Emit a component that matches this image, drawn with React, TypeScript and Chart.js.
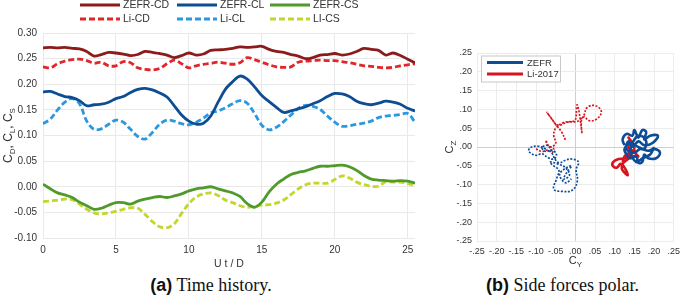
import React, { useEffect, useRef } from "react";
import { Chart, registerables } from "chart.js";

Chart.register(...registerables);

// ---------- Time history data ----------
const timeUtD = [
  0, 0.5, 1, 1.5, 2, 2.5, 3, 3.5, 4, 4.5, 5, 5.5, 6, 6.5, 7, 7.5, 8, 8.5, 9, 9.5,
  10, 10.5, 11, 11.5, 12, 12.5, 13, 13.5, 14, 14.5, 15, 15.5, 16, 16.5, 17, 17.5,
  18, 18.5, 19, 19.5, 20, 20.5, 21, 21.5, 22, 22.5, 23, 23.5, 24, 24.5, 25, 25.5,
];

const zefrCD = [
  0.271, 0.272, 0.271, 0.272, 0.27, 0.269, 0.264, 0.255, 0.258, 0.262, 0.261, 0.259,
  0.256, 0.258, 0.264, 0.262, 0.26, 0.257, 0.252, 0.256, 0.261, 0.257, 0.259, 0.266,
  0.267, 0.268, 0.27, 0.273, 0.272, 0.273, 0.274, 0.268, 0.264, 0.262, 0.258, 0.255,
  0.25, 0.252, 0.257, 0.258, 0.26, 0.257, 0.259, 0.264, 0.27, 0.268, 0.266, 0.257,
  0.261, 0.256, 0.249, 0.242,
];
const liCD = [
  0.234, 0.232, 0.24, 0.245, 0.248, 0.249, 0.246, 0.241, 0.243, 0.236, 0.236, 0.244,
  0.242, 0.232, 0.229, 0.228, 0.231, 0.24, 0.247, 0.24, 0.232, 0.236, 0.239, 0.241,
  0.243, 0.241, 0.239, 0.242, 0.252, 0.248, 0.243, 0.238, 0.234, 0.233, 0.234, 0.243,
  0.245, 0.246, 0.247, 0.246, 0.246, 0.244, 0.242, 0.239, 0.236, 0.235, 0.233, 0.232,
  0.233, 0.236, 0.238, 0.24,
];
const zefrCL = [
  0.185, 0.186, 0.181, 0.176, 0.174, 0.168, 0.158, 0.16, 0.161, 0.165, 0.172, 0.176,
  0.184, 0.19, 0.192, 0.189, 0.183, 0.175, 0.158, 0.14, 0.128, 0.122, 0.124, 0.138,
  0.165, 0.19, 0.205, 0.216, 0.21, 0.195, 0.178, 0.166, 0.155, 0.145, 0.148, 0.152,
  0.156, 0.162, 0.168, 0.176, 0.182, 0.181, 0.176, 0.167, 0.162, 0.16, 0.163, 0.167,
  0.165, 0.161, 0.153, 0.148,
];
const liCL = [
  0.123, 0.132, 0.15, 0.165, 0.172, 0.162, 0.128, 0.112, 0.113, 0.122, 0.13, 0.126,
  0.112, 0.098, 0.093, 0.106, 0.122, 0.13, 0.128, 0.123, 0.121, 0.126, 0.134, 0.144,
  0.148, 0.154, 0.162, 0.168, 0.163, 0.143, 0.12, 0.111, 0.116, 0.127, 0.14, 0.153,
  0.159, 0.157, 0.151, 0.138, 0.126, 0.118, 0.119, 0.122, 0.124, 0.128, 0.135, 0.138,
  0.139, 0.141, 0.143, 0.126,
];
const zefrCS = [
  0.005, -0.004, -0.012, -0.016, -0.021, -0.03, -0.037, -0.044, -0.042, -0.036, -0.031,
  -0.031, -0.034, -0.028, -0.024, -0.021, -0.019, -0.021, -0.018, -0.014, -0.008, -0.004,
  -0.002, 0.0, -0.004, -0.008, -0.012, -0.019, -0.033, -0.04, -0.03, -0.01, 0.005, 0.015,
  0.024, 0.028, 0.031, 0.036, 0.04, 0.04, 0.041, 0.042, 0.039, 0.032, 0.022, 0.015, 0.013,
  0.012, 0.011, 0.012, 0.011, 0.007,
];
const liCS = [
  -0.029, -0.028, -0.026, -0.024, -0.025, -0.034, -0.044, -0.051, -0.053, -0.051, -0.048,
  -0.044, -0.041, -0.042, -0.054, -0.068, -0.078, -0.08, -0.072, -0.052, -0.033, -0.02,
  -0.014, -0.012, -0.017, -0.026, -0.031, -0.037, -0.04, -0.038, -0.036, -0.035, -0.032,
  -0.026, -0.015, -0.004, 0.004, 0.007, 0.007, 0.007, 0.014, 0.021, 0.017, 0.009, 0.004,
  0.001, 0.001, 0.01, 0.009, 0.009, 0.006, 0.002,
];

const historyLabels = ["ZEFR-CD", "ZEFR-CL", "ZEFR-CS", "Li-CD", "Li-CL", "LI-CS"];
const historyColors = ["#8c1c1c", "#0c4d94", "#4f9a2a", "#e0262b", "#2a98de", "#c2d62c"];
const historyDashed = [false, false, false, true, true, true];
const historyYTicks = [-0.1, 0.3, 0.05];
const historyXTicks = [0, 25.5, 5];

// ---------- Side force polar data (Cy, Cz) ----------
const zefrSolidCy = [0.125, 0.12, 0.13, 0.145, 0.15, 0.16, 0.17, 0.18, 0.175, 0.19, 0.21, 0.195, 0.175, 0.16, 0.145, 0.135, 0.13, 0.15, 0.165, 0.185, 0.2, 0.215, 0.205, 0.185, 0.175, 0.17, 0.16, 0.155, 0.14, 0.13, 0.125, 0.14, 0.16, 0.175, 0.18, 0.165, 0.15, 0.14, 0.155, 0.17, 0.19, 0.2];
const zefrSolidCz = [0.005, 0.02, 0.035, 0.03, 0.045, 0.025, 0.045, 0.04, 0.02, 0.03, 0.03, 0.01, 0.005, 0.015, 0.0, 0.015, -0.005, -0.015, -0.005, -0.01, -0.005, -0.015, -0.03, -0.03, -0.02, -0.04, -0.042, -0.025, -0.03, -0.02, -0.005, 0.01, 0.0, -0.005, 0.015, 0.03, 0.02, -0.01, -0.04, -0.03, -0.02, 0.0];

const zefrDotCy = [-0.075, -0.095, -0.115, -0.118, -0.1, -0.085, -0.07, -0.055, -0.048, -0.06, -0.075, -0.085, -0.07, -0.06, -0.05, -0.04, -0.025, -0.01, 0.008, 0.002, 0.005, -0.008, -0.035, -0.055, -0.048, -0.042, -0.055, -0.065, -0.045, -0.025, -0.015, -0.03, -0.02, -0.01, -0.03, -0.04, -0.025, -0.01];
const zefrDotCz = [-0.005, 0.002, -0.002, -0.012, -0.022, -0.018, -0.028, -0.032, -0.02, -0.008, -0.012, -0.002, 0.004, -0.015, -0.035, -0.042, -0.035, -0.032, -0.04, -0.06, -0.09, -0.115, -0.118, -0.112, -0.085, -0.062, -0.05, -0.04, -0.045, -0.055, -0.075, -0.085, -0.065, -0.05, -0.06, -0.075, -0.095, -0.085];

const liSolidCy = [0.155, 0.14, 0.125, 0.11, 0.096, 0.095, 0.105, 0.115, 0.125, 0.133, 0.125, 0.118, 0.12, 0.13, 0.145, 0.16, 0.15, 0.135, 0.14, 0.135, 0.145, 0.15, 0.138, 0.125, 0.12];
const liSolidCz = [-0.01, -0.02, -0.03, -0.032, -0.04, -0.05, -0.055, -0.045, -0.055, -0.075, -0.068, -0.058, -0.045, -0.035, -0.025, -0.025, -0.015, 0.0, 0.015, 0.025, 0.01, -0.005, -0.015, -0.025, -0.04];

const liDotCy = [-0.1, -0.085, -0.07, -0.06, -0.055, -0.07, -0.075, -0.065, -0.05, -0.055, -0.05, -0.03, -0.01, 0.0, 0.004, 0.01, 0.017, 0.015, 0.022, 0.03, 0.05, 0.066, 0.055, 0.035, 0.022, 0.005, -0.02, -0.045, -0.06, -0.072, -0.05, -0.035, -0.025];
const liDotCz = [-0.005, -0.012, -0.008, -0.015, -0.005, 0.005, 0.018, 0.0, 0.01, 0.03, 0.05, 0.065, 0.068, 0.072, 0.112, 0.09, 0.036, 0.07, 0.085, 0.105, 0.11, 0.095, 0.075, 0.07, 0.08, 0.068, 0.066, 0.058, 0.075, 0.092, 0.06, 0.04, 0.018];

const polarLegendLabels = ["ZEFR", "Li-2017"];
const polarColors = ["#0d4c96", "#d9141c"];
const polarTicks = [-0.25, 0.25, 0.05];

const SANS = "'Liberation Sans', Arial, sans-serif";

type Part = { t: string; sub?: boolean };

function drawSubText(ctx: CanvasRenderingContext2D, parts: Part[], x: number, y: number, size: number, rotate: boolean) {
  ctx.save();
  ctx.translate(x, y);
  if (rotate) ctx.rotate(-Math.PI / 2);
  const subSize = Math.round(size * 0.7);
  let total = 0;
  parts.forEach((p) => {
    ctx.font = `${p.sub ? subSize : size}px ${SANS}`;
    total += ctx.measureText(p.t).width;
  });
  let cx = -total / 2;
  ctx.fillStyle = "#333";
  ctx.textBaseline = "middle";
  ctx.textAlign = "left";
  parts.forEach((p) => {
    ctx.font = `${p.sub ? subSize : size}px ${SANS}`;
    ctx.fillText(p.t, cx, p.sub ? size * 0.3 : 0);
    cx += ctx.measureText(p.t).width;
  });
  ctx.restore();
}

const historyPlugin = {
  id: "historyDecor",
  afterDraw(chart: any) {
    const ctx = chart.ctx as CanvasRenderingContext2D;
    const cols = [80, 177, 270];
    const rows = [5, 19];
    ctx.save();
    historyLabels.forEach((label, i) => {
      const c = i % 3;
      const r = Math.floor(i / 3);
      const x = cols[c];
      const y = rows[r];
      ctx.strokeStyle = historyColors[i];
      ctx.lineWidth = 3;
      ctx.setLineDash(historyDashed[i] ? [6, 3] : []);
      ctx.beginPath();
      ctx.moveTo(x, y);
      ctx.lineTo(x + 40, y);
      ctx.stroke();
      ctx.setLineDash([]);
      ctx.fillStyle = "#333";
      ctx.font = `10.5px ${SANS}`;
      ctx.textBaseline = "middle";
      ctx.textAlign = "left";
      ctx.fillText(label, x + 43, y + 0.5);
    });
    ctx.restore();
    drawSubText(
      ctx,
      [{ t: "C" }, { t: "D", sub: true }, { t: ", C" }, { t: "L", sub: true }, { t: ", C" }, { t: "S", sub: true }],
      9,
      (chart.chartArea.top + chart.chartArea.bottom) / 2,
      12,
      true
    );
  },
};

const polarPlugin = {
  id: "polarDecor",
  afterDraw(chart: any) {
    const ctx = chart.ctx as CanvasRenderingContext2D;
    const area = chart.chartArea;
    ctx.save();
    // legend box
    const bx = area.left + 4;
    const by = area.top + 2.5;
    ctx.fillStyle = "#fff";
    ctx.fillRect(bx, by, 79, 26);
    ctx.strokeStyle = "#c8c8c8";
    ctx.lineWidth = 1;
    ctx.strokeRect(bx + 0.5, by + 0.5, 79, 26);
    polarLegendLabels.forEach((label, i) => {
      const y = by + 7 + i * 11.5;
      ctx.strokeStyle = polarColors[i];
      ctx.lineWidth = 3;
      ctx.beginPath();
      ctx.moveTo(bx + 6, y);
      ctx.lineTo(bx + 42, y);
      ctx.stroke();
      ctx.fillStyle = "#333";
      ctx.font = `9.5px ${SANS}`;
      ctx.textBaseline = "middle";
      ctx.textAlign = "left";
      ctx.fillText(label, bx + 46, y + 0.5);
    });
    ctx.restore();
    drawSubText(ctx, [{ t: "C" }, { t: "Y", sub: true }], (area.left + area.right) / 2, 261, 11, false);
    drawSubText(ctx, [{ t: "C" }, { t: "Z", sub: true }], 10, (area.top + area.bottom) / 2, 11, true);
  },
};

function toPoints(xs: number[], ys: number[]) {
  return xs.map((x, i) => ({ x, y: ys[i] }));
}

export default function App() {
  const leftRef = useRef<HTMLCanvasElement | null>(null);
  const rightRef = useRef<HTMLCanvasElement | null>(null);

  useEffect(() => {
    const series = [zefrCD, zefrCL, zefrCS, liCD, liCL, liCS];
    const left = new Chart(leftRef.current as HTMLCanvasElement, {
      type: "line",
      data: {
        datasets: series.map((s, i) => ({
          label: historyLabels[i],
          data: toPoints(timeUtD, s),
          borderColor: historyColors[i],
          backgroundColor: historyColors[i],
          borderWidth: 2.8,
          borderDash: historyDashed[i] ? [6, 3] : [],
          pointRadius: 0,
          tension: 0.35,
          fill: false,
        })),
      },
      options: {
        animation: false,
        responsive: false,
        layout: { padding: { left: 0, right: 15, top: 33, bottom: 0 } },
        plugins: { legend: { display: false }, tooltip: { enabled: false } },
        scales: {
          x: {
            type: "linear",
            min: historyXTicks[0],
            max: historyXTicks[1],
            afterFit: (s: any) => {
              s.height = 37;
            },
            ticks: {
              stepSize: historyXTicks[2],
              includeBounds: false,
              padding: 6,
              color: "#333",
              font: { family: SANS, size: 10 },
              maxRotation: 0,
            },
            grid: { color: "#e9e9e9", drawTicks: false },
            border: { display: false },
            title: {
              display: true,
              text: "U t / D",
              color: "#333",
              font: { family: SANS, size: 10.5 },
              padding: { top: 0, bottom: 5 },
            },
          },
          y: {
            type: "linear",
            min: historyYTicks[0],
            max: historyYTicks[1],
            afterFit: (s: any) => {
              s.width = 43;
            },
            ticks: {
              stepSize: historyYTicks[2],
              padding: 6,
              color: "#333",
              font: { family: SANS, size: 10 },
              callback: (v: any) => Number(v).toFixed(2),
            },
            grid: { color: "#e9e9e9", drawTicks: false },
            border: { display: false },
          },
        },
      },
      plugins: [historyPlugin],
    } as any);

    const polarSets = [
      { data: toPoints(zefrSolidCy, zefrSolidCz), color: polarColors[0], dotted: false },
      { data: toPoints(zefrDotCy, zefrDotCz), color: polarColors[0], dotted: true },
      { data: toPoints(liSolidCy, liSolidCz), color: polarColors[1], dotted: false },
      { data: toPoints(liDotCy, liDotCz), color: polarColors[1], dotted: true },
    ];
    const fmt = (v: number) => {
      const s = (Math.abs(v) < 1e-9 ? 0 : v).toFixed(2);
      return s.replace("0.", ".");
    };
    const right = new Chart(rightRef.current as HTMLCanvasElement, {
      type: "scatter",
      data: {
        datasets: polarSets.map((d) => ({
          data: d.data,
          showLine: true,
          borderColor: d.color,
          backgroundColor: d.color,
          borderWidth: d.dotted ? 1.7 : 2.6,
          borderDash: d.dotted ? [2, 1.5] : [],
          pointRadius: 0,
          tension: 0.4,
        })),
      },
      options: {
        animation: false,
        responsive: false,
        layout: { padding: { left: 0, right: 8, top: 53, bottom: 0 } },
        plugins: { legend: { display: false }, tooltip: { enabled: false } },
        scales: {
          x: {
            type: "linear",
            min: polarTicks[0],
            max: polarTicks[1],
            afterFit: (s: any) => {
              s.height = 29;
            },
            ticks: {
              stepSize: polarTicks[2],
              padding: 5,
              color: "#333",
              font: { family: SANS, size: 9 },
              maxRotation: 0,
              autoSkip: false,
              callback: (v: any) => fmt(Number(v)),
            },
            grid: {
              color: (c: any) => (c.tick && Math.abs(c.tick.value) < 1e-9 ? "#cfcfcf" : "#ececec"),
              drawTicks: false,
            },
            border: { display: false },
          },
          y: {
            type: "linear",
            min: polarTicks[0],
            max: polarTicks[1],
            afterFit: (s: any) => {
              s.width = 37;
            },
            ticks: {
              stepSize: polarTicks[2],
              padding: 5,
              color: "#333",
              font: { family: SANS, size: 9 },
              autoSkip: false,
              callback: (v: any) => fmt(Number(v)),
            },
            grid: {
              color: (c: any) => (c.tick && Math.abs(c.tick.value) < 1e-9 ? "#cfcfcf" : "#ececec"),
              drawTicks: false,
            },
            border: { display: false },
          },
        },
      },
      plugins: [polarPlugin],
    } as any);

    return () => {
      left.destroy();
      right.destroy();
    };
  }, []);

  const captionStyle: React.CSSProperties = {
    position: "absolute",
    top: 275,
    textAlign: "center",
    fontSize: 18,
    fontFamily: "'Liberation Serif', 'Times New Roman', serif",
    color: "#111",
    whiteSpace: "nowrap",
  };

  return (
    <div style={{ position: "absolute", left: 0, top: 0, width: 685, height: 298, background: "#fff" }}>
      <canvas ref={leftRef} width={430} height={275} style={{ position: "absolute", left: 0, top: 0 }} />
      <canvas ref={rightRef} width={245} height={270} style={{ position: "absolute", left: 440, top: 0 }} />
      <div style={{ ...captionStyle, left: 0, width: 422 }}>
        <span style={{ fontFamily: SANS, fontWeight: "bold" }}>(a)</span> Time history.
      </div>
      <div style={{ ...captionStyle, left: 440, width: 245 }}>
        <span style={{ fontFamily: SANS, fontWeight: "bold" }}>(b)</span> Side forces polar.
      </div>
    </div>
  );
}
